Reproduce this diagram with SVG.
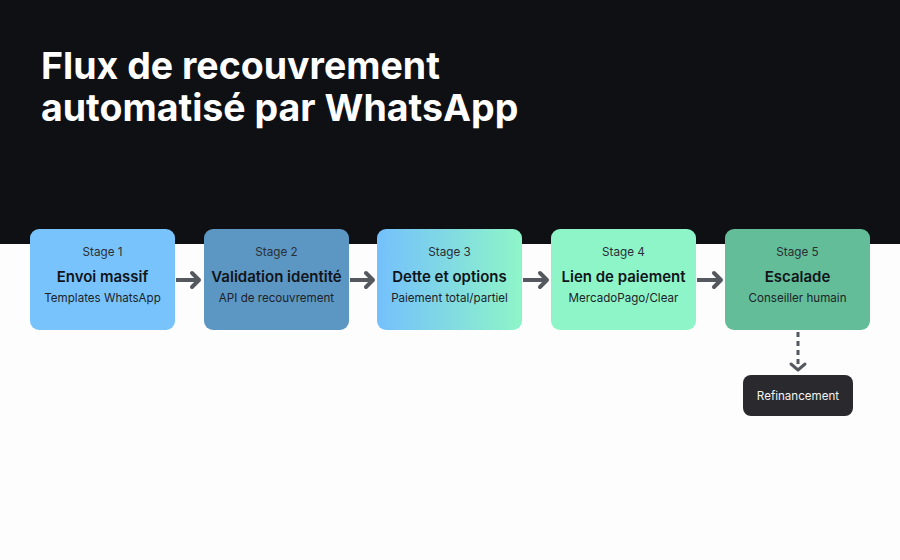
<svg xmlns="http://www.w3.org/2000/svg" width="900" height="560" viewBox="0 0 900 560">
<defs>
<linearGradient id="g3" x1="0" y1="0" x2="1" y2="0">
<stop offset="0" stop-color="#74c0fc"/>
<stop offset="1" stop-color="#8ef5c8"/>
</linearGradient>
<marker id="ah" viewBox="-12 -12 24 24" refX="0" refY="0" markerWidth="24" markerHeight="24" markerUnits="userSpaceOnUse" orient="auto">
<path d="M-7,-7 L0,0 L-7,7" fill="none" stroke="#55595f" stroke-width="4" stroke-linecap="round" stroke-linejoin="round"/>
</marker>
<marker id="ah2" viewBox="-12 -12 24 24" refX="0" refY="0" markerWidth="24" markerHeight="24" markerUnits="userSpaceOnUse" orient="auto">
<path d="M-6,-7 L0,0 L-6,7" fill="none" stroke="#55595f" stroke-width="3" stroke-linecap="round" stroke-linejoin="round"/>
</marker>
<style>
.stage{font-family:Inter,"Liberation Sans",sans-serif;font-size:11.7px;fill:#2a2f36;text-anchor:middle}
.name{font-family:Inter,"Liberation Sans",sans-serif;font-size:15px;font-weight:600;fill:#111418;text-anchor:middle}
.sub{font-family:Inter,"Liberation Sans",sans-serif;font-size:11.6px;fill:#1e2329;text-anchor:middle}
.title{font-family:Inter,"Liberation Sans",sans-serif;font-size:37.5px;font-weight:700;fill:#ffffff}
.conn{fill:none;stroke:#55595f;stroke-width:4;stroke-linecap:butt}
</style>
</defs>
<rect x="0" y="0" width="900" height="560" fill="#fdfdfd"/>
<rect x="0" y="0" width="900" height="244" fill="#0e1013"/>
<text class="title" x="41" y="79">Flux de recouvrement</text>
<text class="title" x="41" y="121">automatisé par WhatsApp</text>

<g id="connectors">
<line class="conn" x1="176" y1="280" x2="199" y2="280" marker-end="url(#ah)"/>
<line class="conn" x1="350" y1="280" x2="373" y2="280" marker-end="url(#ah)"/>
<line class="conn" x1="523" y1="280" x2="547" y2="280" marker-end="url(#ah)"/>
<line class="conn" x1="697" y1="280" x2="721" y2="280" marker-end="url(#ah)"/>
<line x1="798" y1="332" x2="798" y2="370" fill="none" stroke="#55595f" stroke-width="3" stroke-dasharray="5,4" marker-end="url(#ah2)"/>
</g>

<g id="stage1">
<rect x="30" y="229" width="145" height="101" rx="9" fill="#78c3fb"/>
<text class="stage" x="102.5" y="256">Stage 1</text>
<text class="name" x="102.5" y="281.5">Envoi massif</text>
<text class="sub" x="102.5" y="302">Templates WhatsApp</text>
</g>
<g id="stage2">
<rect x="204" y="229" width="145" height="101" rx="9" fill="#5c96c3"/>
<text class="stage" x="276.5" y="256">Stage 2</text>
<text class="name" x="276.5" y="281.5">Validation identité</text>
<text class="sub" x="276.5" y="302">API de recouvrement</text>
</g>
<g id="stage3">
<rect x="377" y="229" width="145" height="101" rx="9" fill="url(#g3)"/>
<text class="stage" x="449.5" y="256">Stage 3</text>
<text class="name" x="449.5" y="281.5">Dette et options</text>
<text class="sub" x="449.5" y="302">Paiement total/partiel</text>
</g>
<g id="stage4">
<rect x="551" y="229" width="145" height="101" rx="9" fill="#8ef5c9"/>
<text class="stage" x="623.5" y="256">Stage 4</text>
<text class="name" x="623.5" y="281.5">Lien de paiement</text>
<text class="sub" x="623.5" y="302">MercadoPago/Clear</text>
</g>
<g id="stage5">
<rect x="725" y="229" width="145" height="101" rx="9" fill="#63bd98"/>
<text class="stage" x="797.5" y="256">Stage 5</text>
<text class="name" x="797.5" y="281.5">Escalade</text>
<text class="sub" x="797.5" y="302">Conseiller humain</text>
</g>
<g id="refinancement">
<rect x="743" y="375" width="110" height="41" rx="8" fill="#2a2a2e"/>
<text x="798" y="400" font-family="Inter,'Liberation Sans',sans-serif" font-size="11.6" fill="#f2f2f2" text-anchor="middle">Refinancement</text>
</g>
</svg>
